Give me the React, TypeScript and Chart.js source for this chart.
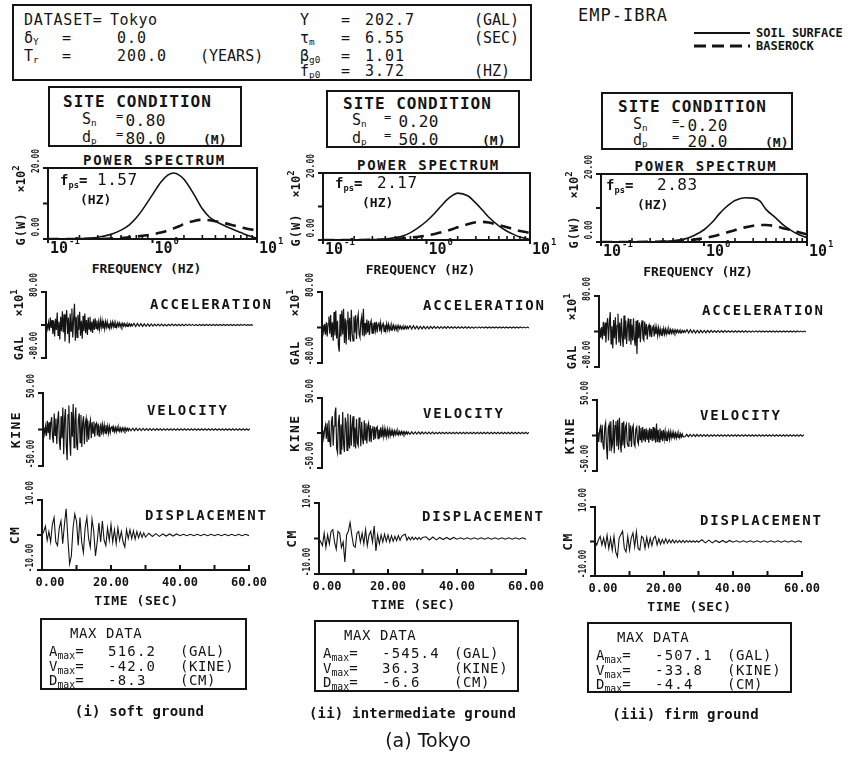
import React, { useEffect, useRef } from "react";
import { Chart, registerables } from "chart.js";
Chart.register(...registerables);

const INK = "#141414";
const FONT = "'DejaVu Sans Mono', 'Liberation Mono', monospace";

// ---------------- data ----------------
const FREQS = [0.1, 0.15, 0.2, 0.3, 0.4, 0.5, 0.6, 0.7, 0.8, 1.0, 1.2, 1.4, 1.6, 1.8, 2.0, 2.5, 3.0, 3.5, 4.0, 5.0, 6.0, 7.0, 8.0, 10.0];
const PS_SOFT_SURF = [0, 0.02, 0.1, 0.5, 1.3, 2.5, 4.0, 6.0, 8.2, 12.5, 16.0, 18.0, 18.6, 18.0, 16.8, 12.5, 8.5, 6.2, 5.0, 3.6, 2.6, 1.8, 1.1, 0.2];
const PS_SOFT_BASE = [0, 0, 0, 0.05, 0.15, 0.3, 0.5, 0.7, 0.9, 1.3, 1.8, 2.4, 3.0, 3.6, 4.2, 5.1, 5.4, 5.3, 5.0, 4.4, 3.8, 3.3, 2.9, 2.4];
const PS_MID_SURF = [0, 0, 0.02, 0.1, 0.3, 0.7, 1.3, 2.2, 3.3, 5.6, 8.0, 10.3, 12.2, 13.4, 14.0, 13.2, 11.0, 8.8, 6.8, 4.2, 2.6, 1.6, 0.9, 0.2];
const PS_MID_BASE = [0, 0, 0, 0.05, 0.15, 0.3, 0.5, 0.7, 0.9, 1.3, 1.8, 2.3, 2.8, 3.3, 3.8, 4.7, 5.3, 5.4, 5.2, 4.5, 3.8, 3.2, 2.7, 2.1];
const PS_FIRM_SURF = [0, 0, 0, 0.05, 0.15, 0.35, 0.7, 1.2, 1.9, 3.6, 5.8, 8.2, 10.0, 11.3, 12.2, 13.0, 12.9, 12.0, 9.6, 7.0, 4.8, 3.4, 2.4, 1.3];
const PS_FIRM_BASE = [0, 0, 0, 0.05, 0.1, 0.2, 0.35, 0.5, 0.7, 1.1, 1.6, 2.1, 2.6, 3.1, 3.5, 4.3, 4.8, 5.0, 5.0, 4.6, 4.0, 3.5, 3.0, 2.3];

// acceleration (x10 gal) & velocity (kine): 0..25 s every 0.25 s, then 25.5..60 s every 0.5 s
const FAST_STEP = 0.25;
const FAST_TAIL_START = 25.5;
const FAST_TAIL_STEP = 0.5;
const ACC_SOFT = [0, 4, -9, 6, -14, 18, -7, 12, -22, 10, -28, 15, -12, 30, -25, 8, -35, 20, -15, 33, -18, 26, -40, 12, 36, -22, 18, -44, 28, -15, 40, -30, 14, 51.6, -38, 20, -30, 25, -12, 32, -26, 10, -33, 22, -15, 28, -20, 12, -24, 18, -10, 20, -16, 8, -19, 14, -12, 16, -8, 11, -13, 7, -10, 12, -6, 10, -9, 5, -10, 8, -5, 8, -7, 4, -8, 6, -5, 7, -4, 6, -6, 3, -5, 5, -3, 5, -4, 3, -4, 4, -2.5, 3.5, -3, 2, -3.5, 2.5, -2, 3, -2.5, 2, -2.5];
const VEL_SOFT = [0, 3, -6, 4, -9, 12, -5, 10, -14, 8, 17, -10, -18, 22, -8, 15, -20, 12, 25, -16, -28, 18, -12, 30, -34, 15, 28, -22, -42, 20, 33, -15, -36, 24, -10, 35, -25, 12, 30, -20, -28, 14, 22, -18, 20, -24, 10, 18, -20, 8, 15, -17, 12, -14, 6, 13, -12, 10, -5, 11, -10, 7, 9, -8, 8, -9, 4, 7, -7, 6, -4, 6, -5, 6, -3, 5, -5, 4, -4, 3, 4, -3.5, 3, -3, 2.5, -3, 3, -2, 2.5, -2.5, 2, -2.5, 2, -1.8, 2, -1.6, 1.8, -1.6, 1.5, -1.5, 1.4];
const ACC_MID = [0, 6, -10, 8, -16, 12, -20, 9, 25, -14, 28, -22, 12, -30, 35, -18, 38, -25, 15, -40, -54.5, 30, -20, 38, -16, 42, -35, 20, -38, 15, 36, -28, 22, -32, 40, -14, -30, 25, -12, 28, -26, 18, 30, -15, -22, 12, 24, -18, 42, -20, 10, -16, 18, -12, 15, -17, 8, 15, -13, 10, -14, 12, -6, 13, -11, 7, 12, -9, 10, -8, 5, 9, -9, 6, -7, 8, -5, 7, -6, 4, -6, 5, -3, 5, -4.5, 3, -5, 3.5, -3, 4, -2.5, 3, -3.5, 2, -3, 2.5, -2, 3, -2.5, 2, -2.5];
const VEL_MID = [0, 4, -7, 5, 11, -8, 14, -12, 18, -10, -20, 16, 24, -18, 10, 28, 36.3, -22, -28, 15, 26, -30, 12, -24, 30, -16, -27, 22, 14, -25, 28, -12, -22, 26, -18, 10, 24, -20, 8, -22, 20, -14, -18, 22, 12, -19, 16, -8, -16, 18, -10, 14, -15, 9, 14, -12, 11, -13, 6, 10, -10, 9, -8, 7, 9, -8, 5, -7, 8, -6, 6, -5, 6, -6, 4, -5, 5, -4, 4.5, -4, 3.5, -4, 3, -3.5, 3, -2.5, 3, -2.5, 2.5, -2.5, 2, -2, 2, -1.8, 1.8, -1.8, 1.6, -1.6, 1.5, -1.5, 1.4];
const ACC_FIRM = [0, 8, -14, 10, -18, 22, -10, 20, -25, 15, 30, -20, 18, 44, -28, 12, -38, 26, -15, 32, -30, 14, 40, -25, 20, -32, 30, -12, -35, 36, -18, 25, -28, 12, 30, -22, 28, -30, 15, -20, 30, -18, -32, 24, -50.7, 26, -15, 20, -24, 12, 25, -16, -20, 22, -9, 17, -18, 10, 15, -12, 14, -13, 8, 12, -11, 10, -6, 9, -9, 8, -7, 6, -8, 7, -5, 7, -6, 5, -6, 4.5, -5, 5, -3.5, 4.5, -4, 3.5, -4, 3, -3, 3.5, -2.5, 3, -2.5, 2.5, -3, 2, -2, 2.5, -2, 2, -2];
const VEL_FIRM = [0, 5, -9, 7, 12, -10, 15, -14, -20, 12, 18, -16, -33.8, 10, 15, -22, 20, -18, -12, 22, -25, 14, 20, -15, 22, -20, 25, -10, -24, 18, -14, 20, -18, 12, 16, -10, -15, 18, -8, 14, -16, 10, 14, -12, -15, 9, 12, -8, -12, 14, -6, 11, -10, 12, -7, 9, -9, 10, -5, 8, -10, 11, -6, 9, -8, 12, -7, 10, -10, 17, -9, 8, -9, 10, -6, 7, -8, 8, -5, 6, -7, 6, -4, 5, -5, 5, -3.5, 4, -4, 4, -3, 3, -3.5, 3, -2.5, 2.5, -3, 2.5, -2, 2, -2];
const ACC_TAIL = [4, -3.5, 3.8, -3, 3.2, -3.4, 2.8, -3, 2.6, -2.8, 2.5, -2.6, 2.3, -2.2, 2.4, -2, 2.1, -2.2, 1.9, -2, 1.9, -1.8, 2, -1.7, 1.8, -1.8, 1.6, -1.7, 1.7, -1.6, 1.6, -1.5, 1.6, -1.5, 1.5, -1.5, 1.4, -1.5, 1.4, -1.4, 1.4, -1.3, 1.4, -1.3, 1.3, -1.3, 1.3, -1.3, 1.2, -1.3, 1.2, -1.2, 1.2, -1.2, 1.2, -1.1, 1.2, -1.1, 1.1, -1.1, 1.1, -1.1, 1.1, -1, 1.1, -1, 1, -1, 1, -1];
const VEL_TAIL = [-1.8, 1.7, -1.6, 1.6, -1.5, 1.5, -1.4, 1.4, -1.3, 1.3, -1.3, 1.2, -1.2, 1.2, -1.2, 1.1, -1.1, 1.1, -1.1, 1.1, -1, 1, -1, 0.9, -1, 1, -0.9, 1, -1, 1, -1, 1, -1, 0.9, -1, 1, -0.9, 1, -1, 1, -1, 1, -1, 0.9, -1, 1, -0.9, 1, -1, 1, -1, 1, -1, 0.9, -1, 1, -0.9, 1, -1, 1, -1, 1, -1, 0.9, -1, 1, -0.9, 1, -1, 1];

// displacement (cm): 0..30 s every 0.5 s, then 31..60 s every 1 s
const DISP_STEP = 0.5;
const DISP_TAIL_START = 31;
const DISP_TAIL_STEP = 1;
const DISP_SOFT = [0, 1, 2.5, -1.5, 1, -2, 3, 5, -2, -3, 2, 4, -2.5, 3, 7.5, -1, -8.3, -6, 2, 6, 4, -3, 5, -2, -5, 2, 5, -1, -3.5, 4.5, 1, -6, -2, 3.5, -2, 4, -1.5, -3, 2, -1.5, 3, -2, 1.5, -2.5, 2, -1.5, 1, -2, -3.4, 1.5, -1, 1.5, -1, 1.2, -1.2, 1, -0.8, 0.8, -0.7, 0.6, -0.6];
const DISP_MID = [0, -1, -2, 1.5, -2.5, 1, -1.5, 2, 2.5, -1, -3, 2, 1.5, -2.5, -1, -6.6, 1, 2, 4.5, 1, -2, -2.5, 1.5, 2, -1, 1.5, -1.5, 2.5, -2, 1, 2, -1, 3.5, -3.5, 1, -1.5, 1, -1, 1.2, -0.8, 1, -1, 0.8, -0.8, 0.6, -0.6, 0.8, -0.5, 0.6, 1, 1.2, -0.5, 0.4, -0.4, 0.4, -0.3, 0.3, -0.3, 0.3, -0.3, 0.3];
const DISP_FIRM = [0, -1, 0.5, 1.5, -1, 1, -1.5, 1.8, -2, 1, -2.5, 1.5, -3, -4.4, 1, 2, 3, -2, -3, 1.5, -2.5, 1, 2.5, -1.5, 2.8, -2, -2.5, 1.5, 1, -2, 1.2, -1.5, 1, -1.2, 1, 1.5, -1, 0.8, -0.8, 0.6, -0.6, 0.8, -0.5, 0.5, -0.4, 0.5, -0.4, 0.3, -0.3, 0.3, -0.3, 0.3, -0.3, 0.3, -0.2, 0.2, -0.2, 0.2, -0.2, 0.2, -0.2];
const DISP_TAIL = [0.5, -0.4, 0.4, -0.4, 0.3, -0.3, 0.3, -0.3, 0.3, -0.2, 0.2, -0.2, 0.2, -0.2, 0.2, -0.2, 0.2, -0.2, 0.2, -0.2, 0.2, -0.2, 0.2, -0.2, 0.2, -0.2, 0.2, -0.2, 0.2, -0.2];

const PS_SURF = [PS_SOFT_SURF, PS_MID_SURF, PS_FIRM_SURF];
const PS_BASE = [PS_SOFT_BASE, PS_MID_BASE, PS_FIRM_BASE];
const ACC = [ACC_SOFT, ACC_MID, ACC_FIRM];
const VEL = [VEL_SOFT, VEL_MID, VEL_FIRM];
const DISP = [DISP_SOFT, DISP_MID, DISP_FIRM];

const FPS = ["1.57", "2.17", "2.83"];
const SITE_SN = ["0.80", "0.20", "-0.20"];
const SITE_DP = ["80.0", "50.0", "20.0"];
const A_MAX = ["516.2", "-545.4", "-507.1"];
const V_MAX = ["-42.0", "36.3", "-33.8"];
const D_MAX = ["-8.3", "-6.6", "-4.4"];
const CAPTIONS = ["(i) soft ground", "(ii) intermediate ground", "(iii) firm ground"];

// axis definitions
const PS_MAX = 20;
const PS_TICKS = [0, 10, 20];
const ACC_LIMIT = 80;
const VEL_LIMIT = 50;
const DISP_LIMIT = 10;
const TIME_MAX = 60;
const TIME_TICKS = [0, 10, 20, 30, 40, 50, 60];
const TIME_LABELS = [0, 20, 40, 60];
const FREQ_MIN = 0.1;
const FREQ_MAX = 10;
const FREQ_MAJOR = [0.1, 1, 10];
const FREQ_EXP = ["-1", "0", "1"];
const FREQ_MINOR = [0.2, 0.3, 0.4, 0.5, 0.6, 0.7, 0.8, 0.9, 2, 3, 4, 5, 6, 7, 8, 9];

// ---------------- layout ----------------
const SPEC_AREA = [
  { x: 48, y: 168, w: 209, h: 71 },
  { x: 323, y: 173, w: 207, h: 67 },
  { x: 601, y: 174, w: 206, h: 68 },
];
const TIME_W = 207;
const TIME_AREA = [
  [{ x: 46, y: 292, h: 66 }, { x: 43, y: 393, h: 73 }, { x: 42, y: 500, h: 70 }],
  [{ x: 322, y: 292, h: 71 }, { x: 322, y: 398, h: 70 }, { x: 319, y: 503, h: 71 }],
  [{ x: 599, y: 296, h: 71 }, { x: 597, y: 400, h: 71 }, { x: 595, y: 507, h: 69 }],
];
const TITLE_POS = [
  [[150, 304], [147, 410], [145, 515]],
  [[423, 305], [423, 413], [422, 516]],
  [[702, 310], [700, 415], [700, 520]],
];
const FPS_POS = [
  { fx: 60, fy: 180, vx: 97, hx: 80, hy: 199 },
  { fx: 335, fy: 183, vx: 377, hx: 362, hy: 202 },
  { fx: 606, fy: 185, vx: 657, hx: 637, hy: 204 },
];
const SITE_BOX = [
  { x: 48, y: 86, w: 194, h: 61, tx: 63, ty: 102, sx: 82, s1: 119, s2: 137, ex: 116, vr: 166, mx: 203 },
  { x: 326, y: 90, w: 194, h: 58, tx: 343, ty: 104, sx: 352, s1: 120, s2: 138, ex: 384, vr: 439, mx: 482 },
  { x: 601, y: 92, w: 192, h: 58, tx: 618, ty: 107, sx: 633, s1: 124, s2: 140, ex: 672, vr: 728, mx: 765 },
];
const MAX_BOX = [
  { x: 40, y: 618, w: 207, h: 72 },
  { x: 314, y: 620, w: 205, h: 72 },
  { x: 587, y: 622, w: 205, h: 71 },
];

// ---------------- helpers ----------------
type Opt = { size: number; bold?: boolean; align?: CanvasTextAlign; rot?: boolean; sx?: number; ls?: number };
function txt(ctx: CanvasRenderingContext2D, s: string, x: number, y: number, o: Opt) {
  ctx.save();
  ctx.translate(x, y);
  if (o.rot) ctx.rotate(-Math.PI / 2);
  if (o.sx) ctx.scale(o.sx, 1);
  ctx.font = `${o.bold ? "bold " : ""}${o.size}px ${FONT}`;
  (ctx as any).letterSpacing = `${o.ls ?? 0}px`;
  ctx.textAlign = o.align ?? "center";
  ctx.textBaseline = "middle";
  ctx.fillStyle = INK;
  ctx.fillText(s, 0, 0);
  ctx.restore();
}
function multLabel(ctx: CanvasRenderingContext2D, exp: string, x: number, y: number) {
  ctx.save();
  ctx.translate(x, y);
  ctx.rotate(-Math.PI / 2);
  ctx.fillStyle = INK;
  ctx.textBaseline = "middle";
  ctx.textAlign = "left";
  ctx.font = `bold 12px ${FONT}`;
  const w = ctx.measureText("×10").width;
  ctx.font = `bold 9px ${FONT}`;
  const we = ctx.measureText(exp).width;
  const start = -(w + we) / 2;
  ctx.font = `bold 12px ${FONT}`;
  ctx.fillText("×10", start, 0);
  ctx.font = `bold 9px ${FONT}`;
  ctx.fillText(exp, start + w, -5);
  ctx.restore();
}
type Unit = { exp?: string; name: string };
function yLabels(ctx: CanvasRenderingContext2D, xl: number, yt: number, yb: number, y0: number, top: string, bot: string, unit: Unit) {
  txt(ctx, top, xl - 12, yt - 7, { size: 11, bold: true, rot: true, sx: 0.72 });
  txt(ctx, bot, xl - 12, yb - 12, { size: 11, bold: true, rot: true, sx: 0.72 });
  if (unit.exp) {
    multLabel(ctx, unit.exp, xl - 26, yt + 11);
    txt(ctx, unit.name, xl - 26, yb - 10, { size: 12, bold: true, rot: true, ls: 1 });
  } else {
    txt(ctx, unit.name, xl - 26, y0, { size: 13, bold: true, rot: true, ls: 1.5 });
  }
}

function timePlugin(limit: number, unit: Unit, xAxis: boolean) {
  return {
    id: "timeAxes",
    afterDraw(chart: any) {
      const { ctx } = chart;
      const x = chart.scales.x;
      const y = chart.scales.y;
      const xl = x.getPixelForValue(0);
      const yt = y.getPixelForValue(limit);
      const yb = y.getPixelForValue(-limit);
      const y0 = y.getPixelForValue(0);
      ctx.save();
      ctx.strokeStyle = INK;
      ctx.lineWidth = 2;
      ctx.beginPath();
      ctx.moveTo(xl, yt - 1);
      ctx.lineTo(xl, yb + 1);
      [yt, y0, yb].forEach((v) => {
        ctx.moveTo(xl - 5, v);
        ctx.lineTo(xl, v);
      });
      if (xAxis) {
        ctx.moveTo(xl, yb);
        ctx.lineTo(x.getPixelForValue(TIME_MAX) + 1, yb);
        TIME_TICKS.forEach((t) => {
          const xx = x.getPixelForValue(t);
          ctx.moveTo(xx, yb);
          ctx.lineTo(xx, yb - 5);
        });
      }
      ctx.stroke();
      ctx.restore();
      if (xAxis) {
        TIME_LABELS.forEach((t) => {
          const xx = x.getPixelForValue(t) + (t === 0 ? 8 : 0);
          txt(ctx, t.toFixed(2), xx, yb + 13, { size: 12, bold: true });
        });
      }
      yLabels(ctx, xl, yt, yb, y0, limit.toFixed(2), (-limit).toFixed(2), unit);
    },
  };
}

function specPlugin() {
  return {
    id: "specAxes",
    afterDraw(chart: any) {
      const { ctx } = chart;
      const x = chart.scales.x;
      const y = chart.scales.y;
      const L = x.getPixelForValue(FREQ_MIN);
      const R = x.getPixelForValue(FREQ_MAX);
      const T = y.getPixelForValue(PS_MAX);
      const B = y.getPixelForValue(0);
      ctx.save();
      ctx.strokeStyle = INK;
      ctx.lineWidth = 2;
      ctx.strokeRect(L, T, R - L, B - T);
      ctx.beginPath();
      PS_TICKS.forEach((v) => {
        const yy = y.getPixelForValue(v);
        ctx.moveTo(L - 5, yy);
        ctx.lineTo(L, yy);
      });
      FREQ_MAJOR.forEach((f) => {
        const xx = x.getPixelForValue(f);
        ctx.moveTo(xx, B);
        ctx.lineTo(xx, B + 4);
      });
      ctx.stroke();
      ctx.lineWidth = 1.6;
      ctx.beginPath();
      FREQ_MINOR.forEach((f) => {
        const xx = x.getPixelForValue(f);
        ctx.moveTo(xx, B);
        ctx.lineTo(xx, B - 4);
      });
      ctx.stroke();
      ctx.restore();
      FREQ_MAJOR.forEach((f, i) => {
        const xx = x.getPixelForValue(f) + 2;
        ctx.save();
        ctx.font = `bold 15px ${FONT}`;
        const w = ctx.measureText("10").width;
        ctx.restore();
        txt(ctx, "10", xx, B + 10, { size: 15, bold: true, align: "left" });
        txt(ctx, FREQ_EXP[i], xx + w + 1, B + 3, { size: 9, bold: true, align: "left" });
      });
      yLabels(ctx, L, T, B, B, PS_MAX.toFixed(2), (0).toFixed(2), { exp: "2", name: "G(W)" });
    },
  };
}

function baseOptions(pad: any, scales: any) {
  return {
    animation: false,
    responsive: false,
    maintainAspectRatio: false,
    events: [],
    layout: { padding: { left: pad.l, right: pad.r, top: pad.t, bottom: pad.b } },
    plugins: { legend: { display: false }, tooltip: { enabled: false }, title: { display: false } },
    scales,
  };
}

function toPoints(head: number[], step: number, tail: number[], tailStart: number, tailStep: number) {
  return [
    ...head.map((v, i) => ({ x: i * step, y: v })),
    ...tail.map((v, i) => ({ x: tailStart + i * tailStep, y: v })),
  ];
}

function ChartBox({ area, pad, make }: { area: { x: number; y: number; w: number; h: number }; pad: any; make: () => any }) {
  const ref = useRef<HTMLCanvasElement | null>(null);
  useEffect(() => {
    const chart = new Chart(ref.current as HTMLCanvasElement, make());
    return () => chart.destroy();
  }, []);
  const W = area.w + pad.l + pad.r;
  const H = area.h + pad.t + pad.b;
  return (
    <canvas
      ref={ref}
      width={W}
      height={H}
      style={{ position: "absolute", left: area.x - pad.l, top: area.y - pad.t, width: W, height: H }}
    />
  );
}

const SPEC_PAD = { l: 36, r: 32, t: 20, b: 20 };
const TIME_PAD = { l: 36, r: 24, t: 20, b: 22 };

function specConfig(i: number) {
  return () => ({
    type: "line",
    data: {
      datasets: [
        {
          data: FREQS.map((f, k) => ({ x: f, y: PS_SURF[i][k] })),
          borderColor: INK,
          borderWidth: 1.6,
          pointRadius: 0,
          cubicInterpolationMode: "monotone",
          fill: false,
        },
        {
          data: FREQS.map((f, k) => ({ x: f, y: PS_BASE[i][k] })),
          borderColor: INK,
          borderWidth: 2.6,
          borderDash: [11, 7],
          pointRadius: 0,
          cubicInterpolationMode: "monotone",
          fill: false,
        },
      ],
    },
    options: baseOptions(SPEC_PAD, {
      x: { type: "logarithmic", min: FREQ_MIN, max: FREQ_MAX, display: false },
      y: { type: "linear", min: 0, max: PS_MAX, display: false },
    }),
    plugins: [specPlugin()],
  });
}

function timeConfig(points: any[], limit: number, unit: Unit, xAxis: boolean, width: number) {
  return () => ({
    type: "line",
    data: {
      datasets: [{ data: points, borderColor: INK, borderWidth: width, pointRadius: 0, tension: 0, fill: false }],
    },
    options: baseOptions(TIME_PAD, {
      x: { type: "linear", min: 0, max: TIME_MAX, display: false },
      y: { type: "linear", min: -limit, max: limit, display: false },
    }),
    plugins: [timePlugin(limit, unit, xAxis)],
  });
}

// ---------------- text helpers ----------------
function Tx({ x, y, s = 15, b = false, ls = 0, a = "left", f = FONT, children }: any) {
  const tr = a === "center" ? "translateX(-50%)" : a === "right" ? "translateX(-100%)" : undefined;
  return (
    <div
      style={{
        position: "absolute",
        left: x,
        top: y - s / 2,
        fontSize: s,
        lineHeight: `${s}px`,
        fontWeight: b ? 700 : 400,
        letterSpacing: ls,
        whiteSpace: "pre",
        transform: tr,
        fontFamily: f,
        color: INK,
      }}
    >
      {children}
    </div>
  );
}
const Sub = ({ c, k = 0.62 }: { c: string; k?: number }) => (
  <span style={{ fontSize: `${k}em`, position: "relative", top: "0.3em", letterSpacing: 0 }}>{c}</span>
);
const Eq = () => <span style={{ fontSize: "0.8em", position: "relative", top: "-0.3em" }}>=</span>;
const Box = ({ x, y, w, h }: any) => (
  <div
    style={{ position: "absolute", left: x, top: y, width: w, height: h, border: `2px solid ${INK}`, boxSizing: "border-box" }}
  />
);

const UNITS: Unit[] = [{ exp: "1", name: "GAL" }, { name: "KINE" }, { name: "CM" }];
const TITLES = ["ACCELERATION", "VELOCITY", "DISPLACEMENT"];
const TRACE_WIDTH = [1.2, 1.2, 1.1];

export default function App() {
  const cols = [0, 1, 2];
  return (
    <div
      style={{
        position: "absolute",
        left: 0,
        top: 0,
        width: 848,
        height: 773,
        background: "#fff",
        overflow: "hidden",
        fontFamily: FONT,
        color: INK,
      }}
    >
      {/* header box */}
      <Box x={12} y={4} w={520} h={77} />
      <Tx x={24} y={20} ls={0.8}>DATASET=</Tx>
      <Tx x={110} y={20} ls={0.5}>Tokyo</Tx>
      <Tx x={24} y={38}>δ<Sub c="Y" /></Tx>
      <Tx x={62} y={38}>=</Tx>
      <Tx x={117} y={38} ls={1}>0.0</Tx>
      <Tx x={24} y={56}>T<Sub c="r" /></Tx>
      <Tx x={62} y={56}>=</Tx>
      <Tx x={117} y={56} ls={1}>200.0</Tx>
      <Tx x={200} y={56}>(YEARS)</Tx>
      <Tx x={300} y={20}>Y</Tx>
      <Tx x={341} y={20}>=</Tx>
      <Tx x={365} y={20} ls={1}>202.7</Tx>
      <Tx x={474} y={20}>(GAL)</Tx>
      <Tx x={300} y={38}>τ<Sub c="m" /></Tx>
      <Tx x={341} y={38}>=</Tx>
      <Tx x={365} y={38} ls={1}>6.55</Tx>
      <Tx x={474} y={38}>(SEC)</Tx>
      <Tx x={300} y={56}>β<Sub c="g0" /></Tx>
      <Tx x={341} y={56}>=</Tx>
      <Tx x={365} y={56} ls={1}>1.01</Tx>
      <Tx x={300} y={71}>f<Sub c="p0" /></Tx>
      <Tx x={341} y={71}>=</Tx>
      <Tx x={365} y={71} ls={1}>3.72</Tx>
      <Tx x={474} y={71}>(HZ)</Tx>

      {/* legend */}
      <Tx x={578} y={15} s={17} ls={1}>EMP-IBRA</Tx>
      <svg style={{ position: "absolute", left: 694, top: 28 }} width={56} height={24}>
        <line x1={0} y1={5} x2={56} y2={5} stroke={INK} strokeWidth={2} />
        <line x1={0} y1={18} x2={56} y2={18} stroke={INK} strokeWidth={3} strokeDasharray="12 6" />
      </svg>
      <Tx x={756} y={33} s={12} b>SOIL SURFACE</Tx>
      <Tx x={756} y={46} s={12} b>BASEROCK</Tx>

      {cols.map((i) => {
        const sb = SITE_BOX[i];
        const sa = SPEC_AREA[i];
        const fp = FPS_POS[i];
        const mb = MAX_BOX[i];
        const series = [
          toPoints(ACC[i], FAST_STEP, ACC_TAIL, FAST_TAIL_START, FAST_TAIL_STEP),
          toPoints(VEL[i], FAST_STEP, VEL_TAIL, FAST_TAIL_START, FAST_TAIL_STEP),
          toPoints(DISP[i], DISP_STEP, DISP_TAIL, DISP_TAIL_START, DISP_TAIL_STEP),
        ];
        const limits = [ACC_LIMIT, VEL_LIMIT, DISP_LIMIT];
        const dArea = TIME_AREA[i][2];
        return (
          <React.Fragment key={i}>
            {/* site condition */}
            <Box x={sb.x} y={sb.y} w={sb.w} h={sb.h} />
            <Tx x={sb.tx} y={sb.ty} s={16} b ls={1}>SITE CONDITION</Tx>
            <Tx x={sb.sx} y={sb.s1} s={15}>S<Sub c="n" /></Tx>
            <Tx x={sb.ex} y={sb.s1} s={15}><Eq /></Tx>
            <Tx x={sb.vr} y={sb.s1 + 2} s={16} ls={0.5} a="right">{SITE_SN[i]}</Tx>
            <Tx x={sb.sx} y={sb.s2} s={15}>d<Sub c="p" /></Tx>
            <Tx x={sb.ex} y={sb.s2} s={15}><Eq /></Tx>
            <Tx x={sb.vr} y={sb.s2 + 2} s={16} ls={0.5} a="right">{SITE_DP[i]}</Tx>
            <Tx x={sb.mx} y={sb.s2 + 2} s={13} b>(M)</Tx>

            {/* power spectrum */}
            <Tx x={sa.x + sa.w / 2 + 2} y={sa.y - 8} s={14} b ls={1.8} a="center">POWER SPECTRUM</Tx>
            <ChartBox area={sa} pad={SPEC_PAD} make={specConfig(i)} />
            <Tx x={fp.fx} y={fp.fy} s={14} b>f<Sub c="ps" />=</Tx>
            <Tx x={fp.vx} y={fp.fy} s={16} ls={0.5}>{FPS[i]}</Tx>
            <Tx x={fp.hx} y={fp.hy} s={13} b>(HZ)</Tx>
            <Tx x={sa.x + sa.w / 2 - 6} y={sa.y + sa.h + 29} s={13} b a="center">FREQUENCY (HZ)</Tx>

            {/* time histories */}
            {series.map((pts, k) => {
              const a = TIME_AREA[i][k];
              return (
                <ChartBox
                  key={k}
                  area={{ x: a.x, y: a.y, w: TIME_W, h: a.h }}
                  pad={TIME_PAD}
                  make={timeConfig(pts, limits[k], UNITS[k], k === 2, TRACE_WIDTH[k])}
                />
              );
            })}
            {TITLES.map((t, k) => (
              <Tx key={t} x={TITLE_POS[i][k][0]} y={TITLE_POS[i][k][1]} s={14} b ls={1.8}>{t}</Tx>
            ))}
            <Tx x={dArea.x + TIME_W / 2 - 9} y={dArea.y + dArea.h + 30} s={13} b ls={0.6} a="center">TIME (SEC)</Tx>

            {/* max data */}
            <Box x={mb.x} y={mb.y} w={mb.w} h={mb.h} />
            <Tx x={mb.x + 30} y={mb.y + 15} s={14} ls={0.6}>MAX DATA</Tx>
            <Tx x={mb.x + 9} y={mb.y + 33} s={14}>A<Sub c="max" k={0.7} />=</Tx>
            <Tx x={mb.x + 68} y={mb.y + 33} s={14} ls={1.2}>{A_MAX[i]}</Tx>
            <Tx x={mb.x + 140} y={mb.y + 33} s={14} ls={0.6}>(GAL)</Tx>
            <Tx x={mb.x + 9} y={mb.y + 48} s={14}>V<Sub c="max" k={0.7} />=</Tx>
            <Tx x={mb.x + 68} y={mb.y + 48} s={14} ls={1.2}>{V_MAX[i]}</Tx>
            <Tx x={mb.x + 140} y={mb.y + 48} s={14} ls={0.6}>(KINE)</Tx>
            <Tx x={mb.x + 9} y={mb.y + 62} s={14}>D<Sub c="max" k={0.7} />=</Tx>
            <Tx x={mb.x + 68} y={mb.y + 62} s={14} ls={1.2}>{D_MAX[i]}</Tx>
            <Tx x={mb.x + 140} y={mb.y + 62} s={14} ls={0.6}>(CM)</Tx>
            <Tx x={mb.x + mb.w / 2 - 4} y={mb.y + mb.h + 21} s={14} b ls={0.2} a="center">{CAPTIONS[i]}</Tx>
          </React.Fragment>
        );
      })}

      <Tx x={428} y={740} s={19} a="center" f="'DejaVu Sans', sans-serif">(a) Tokyo</Tx>
    </div>
  );
}
